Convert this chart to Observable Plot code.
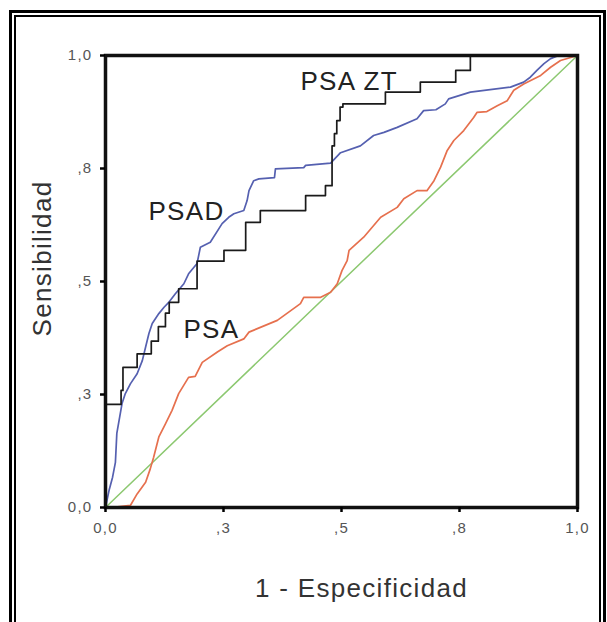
<!DOCTYPE html>
<html><head><meta charset="utf-8">
<script src="https://cdn.jsdelivr.net/npm/d3@7"></script>
<script src="https://cdn.jsdelivr.net/npm/@observablehq/plot@0.6"></script>
<style>
html,body{margin:0;padding:0;background:#fff;overflow:hidden;}
#wrap{position:relative;width:607px;height:622px;overflow:hidden;background:#fff;}
#wrap svg{position:absolute;left:0;top:0;}
#wrap svg text{letter-spacing:1.3px;}
.b1{position:absolute;left:9px;top:10px;width:597px;height:700px;border:3px solid #000;box-sizing:border-box;z-index:2;}
.b2{position:absolute;left:14px;top:15px;width:587px;height:700px;border:2px solid #000;box-sizing:border-box;z-index:2;}
</style>
</head><body>
<div id="wrap"><div class="b1"></div><div class="b2"></div></div>
<script>
// Tick values and labels (SPSS style rounding)
const ticks = [0, 0.25, 0.5, 0.75, 1];
const tickLabels = ["0,0", ",3", ",5", ",8", "1,0"];

// PSA ZT (black step curve): 1 - specificity, sensitivity
const psaztFpr = [0, 0, 0.033, 0.037, 0.067, 0.097, 0.112, 0.127, 0.135, 0.155, 0.194, 0.251, 0.297, 0.328, 0.424, 0.466, 0.48, 0.485, 0.49, 0.497, 0.503, 0.593, 0.667, 0.742, 0.773, 1];
const psaztTpr = [0, 0.228, 0.259, 0.31, 0.34, 0.368, 0.40, 0.43, 0.454, 0.484, 0.545, 0.569, 0.631, 0.657, 0.69, 0.712, 0.80, 0.827, 0.856, 0.886, 0.893, 0.919, 0.941, 0.967, 1, 1];

// PSAD (blue)
const psadFpr = [0, 0.008, 0.015, 0.021, 0.024, 0.03, 0.035, 0.042, 0.053, 0.067, 0.078, 0.085, 0.092, 0.099, 0.113, 0.124, 0.135, 0.148, 0.166, 0.176, 0.194, 0.201, 0.222, 0.247, 0.261, 0.272, 0.293, 0.30, 0.304, 0.314, 0.325, 0.358, 0.36, 0.42, 0.424, 0.477, 0.498, 0.54, 0.568, 0.59, 0.618, 0.66, 0.674, 0.70, 0.72, 0.727, 0.773, 0.858, 0.886, 0.90, 0.914, 0.929, 0.943, 0.96, 1];
const psadTpr = [0, 0.04, 0.067, 0.10, 0.164, 0.20, 0.23, 0.252, 0.274, 0.296, 0.325, 0.355, 0.385, 0.407, 0.429, 0.443, 0.455, 0.473, 0.495, 0.517, 0.54, 0.576, 0.587, 0.628, 0.642, 0.65, 0.657, 0.679, 0.701, 0.723, 0.727, 0.73, 0.749, 0.752, 0.757, 0.762, 0.785, 0.80, 0.823, 0.83, 0.841, 0.86, 0.878, 0.88, 0.893, 0.904, 0.919, 0.93, 0.941, 0.952, 0.967, 0.982, 0.993, 1, 1];

// PSA (red)
const psaFpr = [0, 0.011, 0.053, 0.067, 0.085, 0.095, 0.102, 0.113, 0.127, 0.141, 0.155, 0.176, 0.19, 0.205, 0.237, 0.258, 0.293, 0.304, 0.364, 0.413, 0.42, 0.456, 0.477, 0.491, 0.501, 0.512, 0.516, 0.547, 0.583, 0.618, 0.632, 0.66, 0.681, 0.696, 0.71, 0.724, 0.738, 0.759, 0.78, 0.787, 0.808, 0.83, 0.851, 0.865, 0.886, 0.922, 0.943, 0.964, 1];
const psaTpr = [0, 0, 0.005, 0.03, 0.056, 0.086, 0.111, 0.156, 0.185, 0.215, 0.252, 0.288, 0.29, 0.321, 0.344, 0.358, 0.373, 0.388, 0.414, 0.451, 0.465, 0.465, 0.476, 0.495, 0.524, 0.546, 0.569, 0.598, 0.642, 0.664, 0.683, 0.701, 0.701, 0.723, 0.753, 0.79, 0.812, 0.834, 0.863, 0.874, 0.876, 0.889, 0.90, 0.923, 0.937, 0.956, 0.974, 0.989, 1];

// Reference line
const refFpr = [0, 1];
const refTpr = [0, 1];

// Curve labels (annotation positions in data units)
const labelText = ["PSA ZT", "PSAD", "PSA"];
const labelFpr = [0.413, 0.091, 0.165];
const labelTpr = [0.923, 0.635, 0.376];

const toRows = (xs, ys) => xs.map((x, i) => ({x, y: ys[i]}));
const labels = labelText.map((t, i) => ({text: t, x: labelFpr[i], y: labelTpr[i]}));
const fmt = d => tickLabels[ticks.indexOf(d)];

const plot = Plot.plot({
  width: 607,
  height: 622,
  marginLeft: 105,
  marginRight: 30,
  marginTop: 55,
  marginBottom: 115,
  style: {fontFamily: "'Liberation Sans', Arial, sans-serif", background: "transparent"},
  x: {domain: [0, 1]},
  y: {domain: [0, 1]},
  marks: [
    Plot.line(toRows(refFpr, refTpr), {x: "x", y: "y", stroke: "#8cc870", strokeWidth: 1.5}),
    Plot.line(toRows(psaFpr, psaTpr), {x: "x", y: "y", stroke: "#e6704e", strokeWidth: 1.7}),
    Plot.line(toRows(psadFpr, psadTpr), {x: "x", y: "y", stroke: "#5560b0", strokeWidth: 1.7}),
    Plot.line(toRows(psaztFpr, psaztTpr), {x: "x", y: "y", stroke: "#1a1a1a", strokeWidth: 1.7, curve: "step-after"}),
    Plot.frame({stroke: "#111", strokeWidth: 3.5}),
    Plot.axisX({ticks, tickFormat: fmt, tickSize: 5, tickPadding: 10, strokeWidth: 2.5, fontSize: 15, fill: "#555", label: null}),
    Plot.axisY({ticks, tickFormat: fmt, tickSize: 5, tickPadding: 8, strokeWidth: 2.5, fontSize: 15, fill: "#555", label: null}),
    Plot.text(labels, {x: "x", y: "y", text: "text", textAnchor: "start", lineAnchor: "bottom", fontSize: 26, fill: "#222"}),
    Plot.text(["Sensibilidad"], {frameAnchor: "left", rotate: -90, dx: -55, dy: -23, lineAnchor: "bottom", textAnchor: "middle", fontSize: 26, fill: "#333"}),
    Plot.text(["1 - Especificidad"], {frameAnchor: "bottom", dx: 20, dy: 89, lineAnchor: "bottom", textAnchor: "middle", fontSize: 26, fill: "#333"})
  ]
});
document.getElementById("wrap").appendChild(plot);
</script>
</body></html>
